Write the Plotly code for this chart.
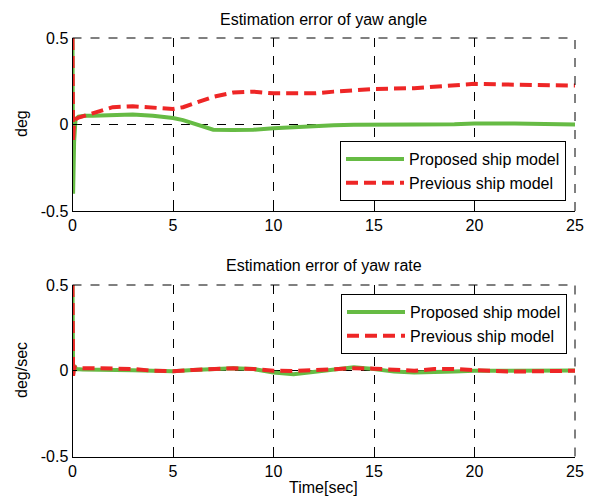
import plotly.graph_objects as go

# ---- data ----
t_top = [0, 0.03, 0.08, 0.15, 0.3, 0.6, 1, 2, 3, 4, 5, 5.5, 6, 6.5, 7, 8, 9, 10,
         11, 12, 13, 14, 15, 17, 19, 20, 22, 25]
angle_proposed = [0.5, -0.4, -0.1, 0.03, 0.045, 0.05, 0.05, 0.055, 0.058, 0.05, 0.038,
                  0.025, 0.005, -0.015, -0.03, -0.032, -0.03, -0.022, -0.015, -0.01,
                  -0.005, -0.002, 0.0, 0.0, 0.002, 0.006, 0.006, 0.0]
angle_previous = [0.5, -0.1, 0.02, 0.03, 0.04, 0.05, 0.065, 0.1, 0.105, 0.095, 0.09,
                  0.1, 0.12, 0.14, 0.16, 0.185, 0.19, 0.18, 0.18, 0.18, 0.19, 0.2,
                  0.205, 0.21, 0.225, 0.235, 0.23, 0.225]

t_bot = [0, 0.03, 0.08, 0.2, 0.5, 1, 2, 3, 4, 5, 6, 7, 8, 9, 10, 11, 12, 13, 14, 15,
         16, 17, 18, 19, 20, 22, 25]
rate_proposed = [0.5, -0.02, 0.03, 0.01, 0.008, 0.008, 0.005, 0.003, 0.0, -0.003, 0.005,
                 0.012, 0.015, 0.01, -0.01, -0.02, -0.005, 0.01, 0.02, 0.01, -0.005,
                 -0.01, -0.01, -0.005, 0.0, 0.0, 0.002]
rate_previous = [0.5, -0.03, 0.02, 0.018, 0.015, 0.015, 0.012, 0.01, 0.0, -0.003, 0.005,
                 0.012, 0.015, 0.01, 0.0, -0.002, 0.005, 0.01, 0.015, 0.012, 0.005, 0.0,
                 0.01, 0.01, 0.003, -0.005, 0.0]

x_ticks = [0, 5, 10, 15, 20, 25]
y_ticks = [-0.5, 0, 0.5]
y_tick_text = ["-0.5", "0", "0.5"]
series_names = ["Proposed ship model", "Previous ship model"]
titles = ["Estimation error of yaw angle", "Estimation error of yaw rate"]
y_labels = ["deg", "deg/sec"]
x_label = "Time[sec]"

GREEN = "#66bb44"
RED = "#ee2626"
FONT = "Liberation Sans, Arial, sans-serif"
FS = 16

fig = go.Figure()
fig.add_trace(go.Scatter(x=t_top, y=angle_proposed, mode="lines", name=series_names[0],
                         line=dict(color=GREEN, width=4), xaxis="x", yaxis="y", legend="legend"))
fig.add_trace(go.Scatter(x=t_top, y=angle_previous, mode="lines", name=series_names[1],
                         line=dict(color=RED, width=4, dash="12px,6px"), xaxis="x", yaxis="y",
                         legend="legend"))
fig.add_trace(go.Scatter(x=t_bot, y=rate_proposed, mode="lines", name=series_names[0],
                         line=dict(color=GREEN, width=4), xaxis="x2", yaxis="y2", legend="legend2"))
fig.add_trace(go.Scatter(x=t_bot, y=rate_previous, mode="lines", name=series_names[1],
                         line=dict(color=RED, width=4, dash="12px,6px"), xaxis="x2", yaxis="y2",
                         legend="legend2"))

W, H = 594, 498
xd = [72.5 / W, 575 / W]
yd_top = [1 - 211 / H, 1 - 38 / H]
yd_bot = [1 - 456.5 / H, 1 - 285 / H]

axis_common = dict(showgrid=True, gridcolor="black", griddash="dash", gridwidth=1,
                   showline=True, linecolor="black", linewidth=1, zeroline=False,
                   ticks="inside", ticklen=4, tickcolor="black", automargin=False,
                   tickfont=dict(family=FONT, size=FS, color="black"))

legend_common = dict(xanchor="right", bgcolor="white", bordercolor="black", borderwidth=1,
                     itemwidth=58, font=dict(family=FONT, size=FS, color="black"))

fig.update_layout(
    template="none",
    width=W, height=H, margin=dict(l=0, r=0, t=0, b=0, pad=0, autoexpand=False),
    paper_bgcolor="white", plot_bgcolor="white",
    font=dict(family=FONT, color="black"),
    xaxis=dict(domain=xd, range=[0, 25], tickvals=x_ticks, anchor="y", **axis_common),
    yaxis=dict(domain=yd_top, range=[-0.5, 0.5], tickvals=y_ticks, ticktext=y_tick_text,
               anchor="x", **axis_common),
    xaxis2=dict(domain=xd, range=[0, 25], tickvals=x_ticks, anchor="y2", **axis_common),
    yaxis2=dict(domain=yd_bot, range=[-0.5, 0.5], tickvals=y_ticks, ticktext=y_tick_text,
                anchor="x2", **axis_common),
    legend=dict(x=566 / W, y=1 - 201 / H, yanchor="bottom", **legend_common),
    legend2=dict(x=567 / W, y=1 - 294 / H, yanchor="top", **legend_common),
    showlegend=True,
)

# dashed top/right box edges
for xr, yr in (("x", "y"), ("x2", "y2")):
    fig.add_shape(type="line", xref=xr + " domain", yref=yr + " domain", x0=0, x1=1, y0=1, y1=1,
                  line=dict(color="black", width=1, dash="dash"))
    fig.add_shape(type="line", xref=xr + " domain", yref=yr + " domain", x0=1, x1=1, y0=0, y1=1,
                  line=dict(color="black", width=1, dash="dash"))

xc = (xd[0] + xd[1]) / 2
ann = dict(xref="paper", yref="paper", showarrow=False, xanchor="center", yanchor="middle",
           font=dict(family=FONT, size=FS, color="black"))
fig.add_annotation(text=titles[0], x=xc, y=1 - 19 / H, **ann)
fig.add_annotation(text=titles[1], x=xc, y=1 - 265.5 / H, **ann)
fig.add_annotation(text=y_labels[0], x=21 / W, y=1 - 124 / H, textangle=-90, **ann)
fig.add_annotation(text=y_labels[1], x=21 / W, y=1 - 370 / H, textangle=-90, **ann)
fig.add_annotation(text=x_label, x=xc, y=1 - 487.5 / H, **ann)

fig.write_html("out.html")
